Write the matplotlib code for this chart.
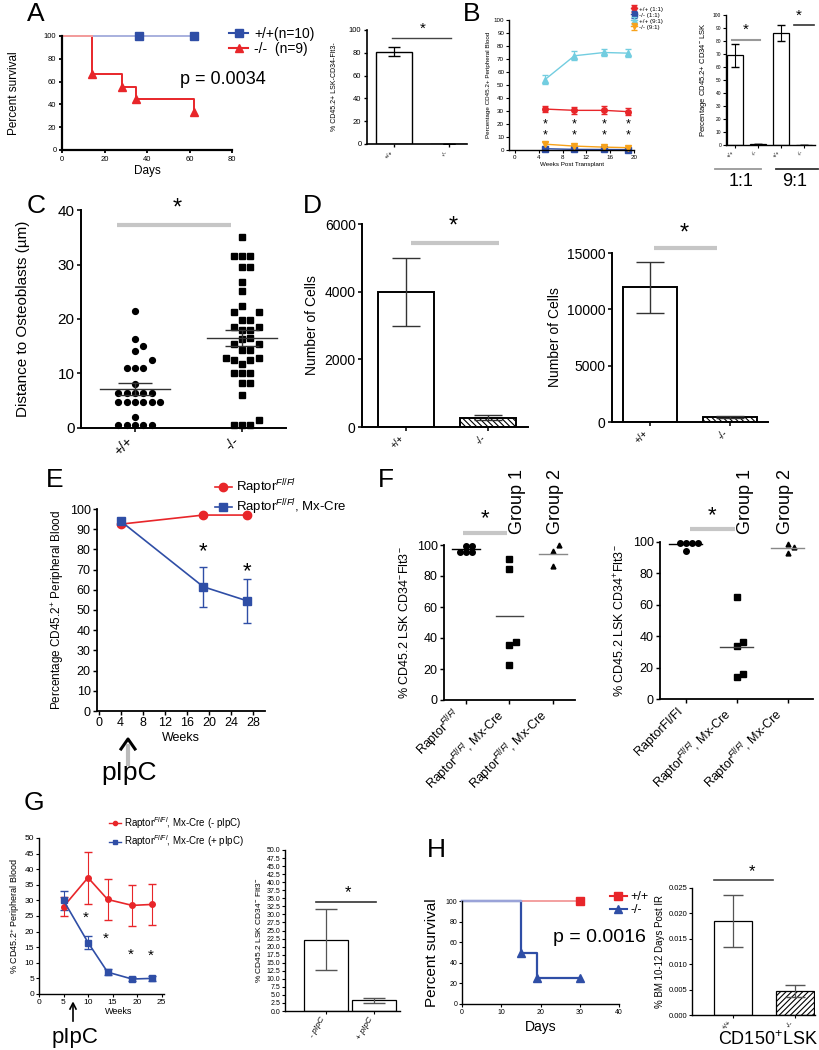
import numpy as np
import matplotlib
matplotlib.use("Agg")
import matplotlib.pyplot as plt
from matplotlib.lines import Line2D

plt.rcParams['font.family'] = ['Liberation Sans', 'DejaVu Sans']
plt.rcParams['mathtext.fontset'] = 'custom'
plt.rcParams['mathtext.rm'] = 'Liberation Sans'
plt.rcParams['mathtext.it'] = 'Liberation Sans:italic'
plt.rcParams['hatch.linewidth'] = 0.8

RED = '#e8262a'
BLUE = '#2f4ea6'
CYAN = '#72cde0'
ORANGE = '#f7a21b'
PINK = '#f3a0a0'
LAVENDER = '#9aa3d8'
SIG = '#c6c6c6'

# ---------------- data ----------------
# A: survival + bar
a_wt_days = [0, 36, 62]
a_wt_surv = [100, 100, 100]
a_ko_days = [0, 14, 28, 35, 62]
a_ko_surv = [100, 66.7, 55.6, 44.4, 33.3]
a_bar_labels = ['+/+', '-/-']
a_bar_vals = [81, 0.3]
a_bar_err = [4, 0]

# B: competitive transplant
b_weeks = [5, 10, 15, 19]
b_wt11 = [31.5, 30.5, 30.5, 29.5]
b_wt11_err = [2.0, 2.5, 3.0, 2.5]
b_ko11 = [1.0, 0.5, 0.4, 0.3]
b_ko11_err = [0.8, 0.5, 0.4, 0.3]
b_wt91 = [54, 72.5, 75, 74.5]
b_wt91_err = [3.5, 3.5, 2.5, 3.0]
b_ko91 = [4.5, 3.0, 2.2, 1.8]
b_ko91_err = [1.5, 1.0, 0.8, 0.8]
b_bar_labels = ['+/+', '-/-', '+/+', '-/-']
b_bar_vals = [69, 0.4, 86, 0.3]
b_bar_err = [9, 0, 6, 0]

# C: distance to osteoblasts
c_wt = [21.5, 16.3, 15.0, 14.1, 12.4, 11.0, 11.0, 11.0, 8.0,
        6.4, 6.4, 6.4, 6.4, 6.4, 4.8, 4.8, 4.8, 4.8, 4.8, 4.8,
        2.1, 0.5, 0.5, 0.5, 0.5, 0.5]
c_ko = [35.1, 31.6, 31.6, 31.6, 29.5, 29.5, 26.7, 25.1, 22.4, 21.2,
        21.2, 19.9, 19.9, 18.6, 18.6, 18.0, 18.0, 16.5, 16.3, 15.5,
        15.5, 14.3, 14.3, 12.8, 12.8, 12.5, 12.5, 11.7, 10.1, 10.1,
        10.1, 8.2, 8.2, 6.0, 1.5, 0.5, 0.5, 0.5]

# D: cell numbers
d_labels = ['+/+', '-/-']
d1_vals = [4000, 270]
d1_err = [1000, 70]
d2_vals = [12000, 450]
d2_err_lo = [2300, 100]
d2_err_hi = [2200, 100]

# E: chimerism after pIpC
e_weeks = [4, 19, 27]
e_ctrl = [92.5, 97, 97]
e_ctrl_err = [0.8, 0.5, 0.5]
e_cre = [94, 61.5, 54.5]
e_cre_err = [0.8, 10, 11]

# F: LSK CD34 Flt3 fractions
f1_ctrl = [99.5, 99.5, 95.5, 95.5, 95.5]
f1_g1 = [91, 84.5, 37.5, 35.5, 22.5]
f1_g2 = [99.8, 96.3, 86.5]
f2_ctrl = [99.5, 99.5, 99.5, 99.5, 94.5]
f2_g1 = [64.9, 36.6, 33.8, 13.9, 16.0]
f2_g2 = [98.6, 96.9, 93.3]
f1_labels = [r'Raptor$^{Fl/Fl}$', r'Raptor$^{Fl/Fl}$, Mx-Cre', r'Raptor$^{Fl/Fl}$, Mx-Cre']
f2_labels = ['RaptorFl/Fl', r'Raptor$^{Fl/Fl}$, Mx-Cre', r'Raptor$^{Fl/Fl}$, Mx-Cre']

# G
g_weeks = [5, 10, 14, 19, 23]
g_minus = [28.0, 37.3, 30.3, 28.4, 28.7]
g_minus_err = [3.0, 8.3, 6.5, 6.5, 6.7]
g_plus = [30.0, 16.5, 7.0, 4.8, 5.0]
g_plus_err = [3.0, 2.2, 1.0, 0.6, 0.8]
g_bar_labels = ['- pIpC', '+ pIpC']
g_bar_vals = [22.2, 3.3]
g_bar_err = [9.5, 0.8]

# H
h_wt_days = [0, 30]
h_wt_surv = [100, 100]
h_ko_days = [0, 15, 19, 30]
h_ko_surv = [100, 50, 25, 25]
h_bar_labels = ['+/+', '-/-']
h_bar_vals = [0.0185, 0.0048]
h_bar_err = [0.0052, 0.0012]

# ---------------- figure ----------------
W, H = 819, 1050
fig = plt.figure(figsize=(W / 100, H / 100), dpi=100)


def px_axes(l, t, r, b):
    return fig.add_axes([l / W, 1 - b / H, (r - l) / W, (b - t) / H])


def ftext(x, y, s, **kw):
    kw.setdefault('ha', 'left')
    kw.setdefault('va', 'center')
    return fig.text(x / W, 1 - y / H, s, **kw)


def fline(xs, ys, **kw):
    fig.add_artist(Line2D([x / W for x in xs], [1 - y / H for y in ys], **kw))


def style(ax, lw=1.2, ticklen=3, fs=6):
    for s in ('top', 'right'):
        ax.spines[s].set_visible(False)
    for s in ('left', 'bottom'):
        ax.spines[s].set_linewidth(lw)
    ax.tick_params(length=ticklen, width=lw * 0.8, labelsize=fs, pad=1.5)


def swarm(vals, ypx, xpx, gap):
    placed = []
    offs = np.zeros(len(vals))
    for i in np.argsort(vals):
        y = vals[i] * ypx
        x = 0
        for k in [0, 1, -1, 2, -2, 3, -3, 4, -4, 5, -5]:
            x = k * gap
            if all((x - px) ** 2 + (y - py) ** 2 >= (gap * 0.95) ** 2 for px, py in placed):
                break
        placed.append((x, y))
        offs[i] = x / xpx
    return offs


def sem(v):
    v = np.asarray(v)
    return v.std(ddof=1) / np.sqrt(len(v))


# panel letters
for lab, x, y in [('A', 27, 14), ('B', 463, 14), ('C', 27, 206), ('D', 303, 206),
                  ('E', 46, 480), ('F', 378, 480), ('G', 24, 803), ('H', 427, 850)]:
    ftext(x, y, lab, fontsize=19)

# ---- A: Kaplan-Meier ----
ax = px_axes(62, 36, 232, 150)
style(ax, lw=1.6, ticklen=2.5, fs=5.5)
ax.plot(a_wt_days, a_wt_surv, color=LAVENDER, lw=1.2, clip_on=False)
ax.step(a_ko_days, a_ko_surv, where='post', color=RED, lw=1.4, clip_on=False)
ax.plot(a_ko_days[:2], a_ko_surv[:1] * 2, color=PINK, lw=1.4, clip_on=False)
ax.plot(a_wt_days[1:], a_wt_surv[1:], 's', color=BLUE, ms=6, clip_on=False)
ax.plot(a_ko_days[1:], a_ko_surv[1:], '^', color=RED, ms=6, clip_on=False)
ax.set_xlim(0, 80)
ax.set_ylim(0, 100)
ax.set_xticks([0, 20, 40, 60, 80])
ax.set_yticks([0, 20, 40, 60, 80, 100])
ax.set_xlabel('Days', fontsize=8.5, labelpad=2)
ax.set_ylabel('Percent survival', fontsize=8.5, labelpad=17)
fig.legend(handles=[Line2D([], [], color=BLUE, marker='s', ms=6, lw=1.5),
                    Line2D([], [], color=RED, marker='^', ms=6, lw=1.5)],
           labels=['+/+(n=10)', '-/-  (n=9)'], loc='upper left',
           bbox_to_anchor=(222 / W, 1 - 20 / H), frameon=False, fontsize=10,
           handlelength=1.4, handletextpad=0.4, labelspacing=0.05, borderpad=0)
ftext(180, 80, 'p = 0.0034', fontsize=13)

# ---- A: bar ----
ax = px_axes(367, 30, 467, 144)
style(ax, lw=1.2, ticklen=2.5, fs=5.5)
xa = np.arange(len(a_bar_vals))
ax.bar(xa, a_bar_vals, width=0.67, color='white', edgecolor='black', lw=1)
ax.errorbar(xa, a_bar_vals, yerr=a_bar_err, fmt='none', ecolor='black', capsize=4, lw=0.9)
ax.set_xlim(-0.49, 1.33)
ax.set_ylim(0, 100)
ax.set_yticks([0, 20, 40, 60, 80, 100])
ax.set_xticks(xa)
ax.set_xticklabels(a_bar_labels, rotation=45, ha='right', fontsize=4.5)
ax.set_ylabel('% CD45.2+ LSK-CD34-Flt3-', fontsize=5, labelpad=8)
ax.plot([-0.04, 1.04], [93, 93], color='#444444', lw=1, clip_on=False)
ax.text(0.52, 95, '*', ha='center', va='bottom', fontsize=11)

# ---- B: lines ----
ax = px_axes(509, 20, 634, 150)
style(ax, lw=1.0, ticklen=2, fs=4.5)
for vals, err, col, mk, lab in [(b_wt11, b_wt11_err, RED, 'o', '+/+ (1:1)'),
                                (b_ko11, b_ko11_err, BLUE, 's', '-/- (1:1)'),
                                (b_wt91, b_wt91_err, CYAN, '^', '+/+ (9:1)'),
                                (b_ko91, b_ko91_err, ORANGE, 'v', '-/- (9:1)')]:
    ax.errorbar(b_weeks, vals, yerr=err, color=col, marker=mk, ms=4, lw=1,
                capsize=2.5, elinewidth=0.8, label=lab, clip_on=False)
for w in b_weeks:
    ax.text(w, 20, '*', ha='center', va='center', fontsize=9)
    ax.text(w, 11, '*', ha='center', va='center', fontsize=9)
ax.set_xlim(-1, 20)
ax.set_ylim(0, 100)
ax.set_xticks([0, 4, 8, 12, 16, 20])
ax.set_yticks(np.arange(0, 101, 10))
ax.set_xlabel('Weeks Post Transplant', fontsize=4.5, labelpad=1.5)
ax.set_ylabel('Percentage CD45.2+ Peripheral Blood', fontsize=4.5, labelpad=2)
ax.legend(loc='upper left', bbox_to_anchor=(0.95, 1.13), frameon=False,
          fontsize=4.5, handlelength=1, handletextpad=0.3, labelspacing=0.1,
          borderpad=0, markerscale=0.9)

# ---- B: bar ----
ax = px_axes(726, 15, 815, 145)
style(ax, lw=1.0, ticklen=2, fs=3.5)
xb = np.arange(len(b_bar_vals))
ax.bar(xb, b_bar_vals, width=0.7, color='white', edgecolor='black', lw=0.9)
ax.errorbar(xb, b_bar_vals, yerr=b_bar_err, fmt='none', ecolor='black', capsize=3, lw=0.8)
ax.set_xlim(-0.39, 3.46)
ax.set_ylim(0, 100)
ax.set_yticks(np.arange(0, 101, 10))
ax.set_xticks(xb)
ax.set_xticklabels(b_bar_labels, rotation=45, ha='right', fontsize=4)
ax.set_ylabel('Percentage CD45.2+ CD34$^{-}$ LSK', fontsize=5.5, labelpad=3)
ax.plot([-0.13, 1.09], [81, 81], color='#999999', lw=1.5, clip_on=False)
ax.text(0.45, 83, '*', ha='center', va='bottom', fontsize=11)
ax.plot([2.57, 3.4], [92, 92], color='#333333', lw=1.2, clip_on=False)
ax.text(2.75, 94, '*', ha='center', va='bottom', fontsize=11)
fline([715, 761], [169, 169], color='#999999', lw=1.3)
fline([776, 818], [169, 169], color='#333333', lw=1.3)
ftext(741, 181, '1:1', ha='center', fontsize=13)
ftext(795, 181, '9:1', ha='center', fontsize=13)

# ---- C: scatter ----
ax = px_axes(81, 210, 286, 428)
style(ax, lw=1.4, ticklen=3, fs=11)
for i, (vals, mk, ms) in enumerate([(c_wt, 'o', 4.2), (c_ko, 's', 4.2)]):
    off = swarm(vals, 5.45, 107, 8.3)
    ax.plot(i + off, vals, mk, color='black', ms=ms, clip_on=False)
    m, s = np.mean(vals), sem(vals)
    ax.plot([i - 0.33, i + 0.33], [m, m], color='#333333', lw=1)
    ax.errorbar([i], [m], yerr=[s], fmt='none', ecolor='#333333', capsize=12, lw=1)
ax.set_xlim(-0.505, 1.41)
ax.set_ylim(0, 40)
ax.set_yticks([0, 10, 20, 30, 40])
ax.set_xticks([0, 1])
ax.set_xticklabels(['+/+', '-/-'], rotation=45, ha='right', fontsize=10)
ax.set_ylabel('Distance to Osteoblasts (µm)', fontsize=11, labelpad=20)
ax.plot([-0.17, 0.9], [37.3, 37.3], color=SIG, lw=3, solid_capstyle='butt', clip_on=False)
ax.text(0.39, 38.2, '*', ha='center', va='bottom', fontsize=17)

# ---- D: bars ----
for (l, t, r, b, top, ticks, vals, elo, ehi, xl, sig_x, sig_y, star_y) in [
        (362, 224, 528, 427, 6000, [0, 2000, 4000, 6000], d1_vals, d1_err, d1_err,
         (-0.54, 1.49), (0.06, 1.13), 5450, 5600),
        (612, 253, 768, 422, 15000, [0, 5000, 10000, 15000], d2_vals, d2_err_lo, d2_err_hi,
         (-0.475, 1.475), (0.05, 0.84), 15450, 15750)]:
    ax = px_axes(l, t, r, b)
    style(ax, lw=1.4, ticklen=3, fs=10)
    xd = np.arange(len(vals))
    bars = ax.bar(xd, vals, width=0.68, color='white', edgecolor='black', lw=1.4)
    bars[1].set_hatch('\\\\\\\\\\\\')
    ax.errorbar(xd, vals, yerr=[elo, ehi], fmt='none', ecolor='#333333', capsize=10, lw=1)
    ax.set_xlim(*xl)
    ax.set_ylim(0, top)
    ax.set_yticks(ticks)
    ax.set_xticks(xd)
    ax.set_xticklabels(d_labels, rotation=45, ha='right', fontsize=7)
    ax.set_ylabel('Number of Cells', fontsize=10, labelpad=4)
    ax.plot(sig_x, [sig_y, sig_y], color=SIG, lw=3, solid_capstyle='butt', clip_on=False)
    ax.text(np.mean(sig_x) - 0.02, star_y, '*', ha='center', va='bottom', fontsize=17,
            clip_on=False)

# ---- E ----
ax = px_axes(97, 509, 265, 711)
style(ax, lw=1.3, ticklen=3, fs=9)
ax.errorbar(e_weeks, e_ctrl, yerr=e_ctrl_err, color=RED, marker='o', ms=6, lw=1.2,
            capsize=3, clip_on=False)
ax.errorbar(e_weeks, e_cre, yerr=e_cre_err, color=BLUE, marker='s', ms=6, lw=1.2,
            capsize=3, elinewidth=1, clip_on=False)
ax.text(e_weeks[1], 79, '*', ha='center', va='center', fontsize=16)
ax.text(e_weeks[2], 69, '*', ha='center', va='center', fontsize=16)
ax.set_xlim(-0.3, 30.2)
ax.set_ylim(0, 100)
ax.set_xticks(np.arange(0, 29, 4))
ax.set_yticks(np.arange(0, 101, 10))
ax.set_xlabel('Weeks', fontsize=9, labelpad=2)
ax.set_ylabel(r'Percentage CD45.2$^{+}$ Peripheral Blood', fontsize=8.5, labelpad=3)
fig.legend(handles=[Line2D([], [], color=RED, marker='o', ms=6, lw=1.2),
                    Line2D([], [], color=BLUE, marker='s', ms=6, lw=1.2)],
           labels=[r'Raptor$^{Fl/Fl}$', r'Raptor$^{Fl/Fl}$, Mx-Cre'], loc='upper left',
           bbox_to_anchor=(208 / W, 1 - 471 / H), frameon=False, fontsize=9.5,
           handlelength=1.3, handletextpad=0.3, labelspacing=0.05, borderpad=0)
fline([121, 128, 135], [749, 739, 749], color='black', lw=2.2)
fline([128, 128], [746, 764], color='#bbbbbb', lw=3)
ftext(129, 773, 'pIpC', ha='center', fontsize=19)

# ---- F ----
for (l, t, r, b, data, labels, ylab, sig, grp_x) in [
        (444, 545, 575, 700, (f1_ctrl, f1_g1, f1_g2), f1_labels,
         r'% CD45.2 LSK CD34$^{-}$Flt3$^{-}$', (-0.07, 0.94), (518, 555)),
        (660, 542, 813, 699, (f2_ctrl, f2_g1, f2_g2), f2_labels,
         r'% CD45.2 LSK CD34$^{+}$Flt3$^{-}$', (0.08, 0.97), (745, 785))]:
    ax = px_axes(l, t, r, b)
    style(ax, lw=1.3, ticklen=3, fs=9)
    xpx = (r - l) / 3.0
    for i, (vals, mk, ms, mcol) in enumerate(zip(data, ['o', 's', '^'], [4, 4, 3.5],
                                                 ['black', '#444444', '#888888'])):
        off = swarm(vals, (b - t) / 100.0, xpx, 6)
        ax.plot(i + off, vals, mk, color='black', ms=ms, clip_on=False)
        m = np.mean(vals)
        ax.plot([i - 0.32, i + 0.32], [m, m], color=mcol, lw=1)
    ax.set_xlim(-0.5, 2.5)
    ax.set_ylim(0, 100)
    ax.set_yticks(np.arange(0, 101, 20))
    ax.set_xticks([0, 1, 2])
    ax.set_xticklabels(labels, rotation=45, ha='right', fontsize=9)
    ax.set_ylabel(ylab, fontsize=9, labelpad=4)
    ax.plot(sig, [108, 108], color=SIG, lw=3, solid_capstyle='butt', clip_on=False)
    ax.text(np.mean(sig), 110, '*', ha='center', va='bottom', fontsize=16, clip_on=False)
    for gx, gname in zip(grp_x, ['Group 1', 'Group 2']):
        ftext(gx, 502, gname, rotation=90, ha='center', fontsize=13)

# ---- G: lines ----
ax = px_axes(39, 838, 164, 994)
style(ax, lw=1.0, ticklen=2, fs=6)
ax.errorbar(g_weeks, g_minus, yerr=g_minus_err, color=RED, marker='o', ms=4, lw=1.2,
            capsize=3, elinewidth=0.8, clip_on=False)
ax.errorbar(g_weeks, g_plus, yerr=g_plus_err, color=BLUE, marker='s', ms=4, lw=1.2,
            capsize=3, elinewidth=0.8, clip_on=False)
for w, y in zip([9.6, 13.6, 18.8, 22.8], [24.5, 17.8, 12.5, 12.3]):
    ax.text(w, y, '*', ha='center', va='center', fontsize=11)
ax.set_xlim(0, 25.5)
ax.set_ylim(0, 50)
ax.set_xticks([0, 5, 10, 15, 20, 25])
ax.set_yticks(np.arange(0, 51, 5))
ax.set_ylabel(r'% CD45.2$^{+}$ Peripheral Blood', fontsize=6.5, labelpad=2)
fig.legend(handles=[Line2D([], [], color=RED, marker='o', ms=3, lw=1),
                    Line2D([], [], color=BLUE, marker='s', ms=3.5, lw=1)],
           labels=[r'Raptor$^{Fl/Fl}$, Mx-Cre (- pIpC)', r'Raptor$^{Fl/Fl}$, Mx-Cre (+ pIpC)'],
           loc='upper left', bbox_to_anchor=(104 / W, 1 - 810 / H), frameon=False,
           fontsize=7, handlelength=1.2, handletextpad=0.4, labelspacing=0.3, borderpad=0)
ftext(105, 1012, 'Weeks', fontsize=6.5)
fline([73, 73], [1021, 1004], color='black', lw=1.2)
fline([70, 73, 76], [1009, 1003, 1009], color='black', lw=1.2)
ftext(75, 1037, 'pIpC', ha='center', fontsize=16)

# ---- G: bar ----
ax = px_axes(285, 850, 400, 1011)
style(ax, lw=1.0, ticklen=2, fs=5)
xg = np.arange(len(g_bar_vals))
ax.bar(xg, g_bar_vals, width=0.9, color='white', edgecolor='black', lw=0.9)
ax.errorbar(xg, g_bar_vals, yerr=g_bar_err, fmt='none', ecolor='#555555', capsize=8, lw=0.9)
ax.set_xlim(-0.85, 1.54)
ax.set_ylim(0, 50)
ax.set_yticks(np.arange(0, 50.1, 2.5))
ax.set_yticklabels(['%.1f' % v for v in np.arange(0, 50.1, 2.5)])
ax.set_xticks(xg)
ax.set_xticklabels(g_bar_labels, rotation=60, ha='right', fontsize=6, style='italic')
ax.set_ylabel(r'% CD45.2 LSK CD34$^{-}$ Flt3$^{-}$', fontsize=6, labelpad=2)
ax.plot([-0.2, 1.05], [34, 34], color='#333333', lw=1.2, clip_on=False)
ax.text(0.45, 34.5, '*', ha='center', va='bottom', fontsize=12)

# ---- H: Kaplan-Meier ----
ax = px_axes(462, 901, 619, 1004)
style(ax, lw=1.0, ticklen=2, fs=5)
ax.plot(h_wt_days, h_wt_surv, color=PINK, lw=1.4, clip_on=False)
ax.step(h_ko_days, h_ko_surv, where='post', color=BLUE, lw=1.6, clip_on=False)
ax.plot(h_ko_days[:2], h_ko_surv[:1] * 2, color=LAVENDER, lw=1.6, clip_on=False)
ax.plot(h_wt_days[1:], h_wt_surv[1:], 's', color=RED, ms=6, clip_on=False)
ax.plot(h_ko_days[1:], h_ko_surv[1:], '^', color=BLUE, ms=6, clip_on=False)
ax.set_xlim(0, 40)
ax.set_ylim(0, 100)
ax.set_xticks([0, 10, 20, 30, 40])
ax.set_yticks([0, 20, 40, 60, 80, 100])
ax.set_xlabel('Days', fontsize=10, labelpad=3)
ax.set_ylabel('Percent survival', fontsize=11, labelpad=5)
fig.legend(handles=[Line2D([], [], color=RED, marker='s', ms=5.5, lw=1.5),
                    Line2D([], [], color=BLUE, marker='^', ms=5.5, lw=1.5)],
           labels=['+/+', '-/-'], loc='upper left',
           bbox_to_anchor=(604 / W, 1 - 885 / H), frameon=False, fontsize=9,
           handlelength=1.3, handletextpad=0.3, labelspacing=0.05, borderpad=0)
ftext(553, 938, 'p = 0.0016', fontsize=14)

# ---- H: bar ----
ax = px_axes(692, 888, 815, 1015)
style(ax, lw=1.0, ticklen=2, fs=5.5)
xh = np.arange(len(h_bar_vals))
bars = ax.bar(xh, h_bar_vals, width=0.6, color='white', edgecolor='black', lw=0.9)
bars[1].set_hatch('//////')
ax.errorbar(xh, h_bar_vals, yerr=h_bar_err, fmt='none', ecolor='#555555', capsize=7, lw=0.9)
ax.set_xlim(-0.66, 1.32)
ax.set_ylim(0, 0.025)
ax.set_yticks(np.arange(0, 0.0251, 0.005))
ax.set_yticklabels(['%.3f' % v for v in np.arange(0, 0.0251, 0.005)])
ax.set_xticks(xh)
ax.set_xticklabels(h_bar_labels, rotation=45, ha='right', fontsize=5)
ax.set_ylabel('% BM 10-12 Days Post IR', fontsize=7, labelpad=2)
ax.plot([-0.3, 0.65], [0.0265, 0.0265], color='#444444', lw=1.2, clip_on=False)
ax.text(0.3, 0.0268, '*', ha='center', va='bottom', fontsize=12, clip_on=False)
ftext(768, 1040, r'CD150$^{+}$LSK', ha='center', fontsize=13)

fig.savefig('out.png', dpi=100)
